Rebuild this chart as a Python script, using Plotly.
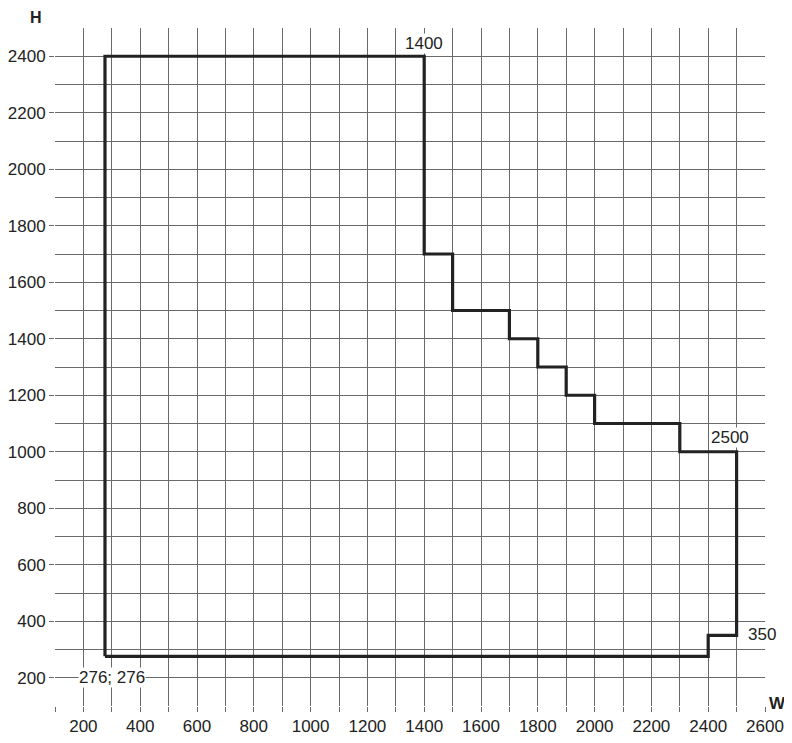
import plotly.graph_objects as go

# Outline of the W x H range (mm)
W = [276, 276, 1400, 1400, 1500, 1500, 1700, 1700, 1800, 1800, 1900, 1900,
     2000, 2000, 2300, 2300, 2500, 2500, 2400, 2400, 276]
H = [276, 2400, 2400, 1700, 1700, 1500, 1500, 1400, 1400, 1300, 1300, 1200,
     1200, 1100, 1100, 1000, 1000, 350, 350, 276, 276]

x_ticks = list(range(200, 2601, 200))
y_ticks = list(range(200, 2401, 200))

labels = [
    {"text": "1400", "x": 1400, "y": 2445},
    {"text": "2500", "x": 2475, "y": 1052},
    {"text": "350", "x": 2590, "y": 352},
    {"text": "276; 276", "x": 300, "y": 200},
]

FONT = "Liberation Sans, Arial, sans-serif"
GRID = "#6a6a6a"
TXT = "#222222"

fig = go.Figure()
fig.add_trace(go.Scatter(x=W, y=H, mode="lines",
                         line=dict(color="#222222", width=3.2),
                         hoverinfo="skip", showlegend=False))

for lab in labels:
    fig.add_annotation(x=lab["x"], y=lab["y"], text=lab["text"], showarrow=False,
                       bgcolor="white", borderpad=0,
                       font=dict(family=FONT, size=17, color=TXT))

fig.add_annotation(xref="paper", yref="paper", x=-0.027, y=1.0, yshift=20,
                   text="<b>H</b>", showarrow=False, xanchor="center", yanchor="top",
                   borderpad=0,
                   font=dict(family=FONT, size=16, color=TXT))
fig.add_annotation(xref="paper", yref="paper", x=1.0, xshift=12, y=0.0, yshift=3,
                   text="<b>W</b>", showarrow=False, xanchor="center", yanchor="middle",
                   font=dict(family=FONT, size=17, color=TXT))

fig.update_xaxes(range=[100, 2600], tickvals=x_ticks, ticktext=[str(v) for v in x_ticks],
                 showgrid=True, gridcolor=GRID, gridwidth=1,
                 ticks="outside", ticklen=5, tickcolor=GRID,
                 minor=dict(dtick=100, tick0=100, showgrid=True, gridcolor=GRID, gridwidth=1,
                            ticks="outside", ticklen=5, tickcolor=GRID),
                 showline=False, zeroline=False,
                 tickfont=dict(family=FONT, size=17, color=TXT))
fig.update_yaxes(range=[100, 2500], tickvals=y_ticks, ticktext=[str(v) for v in y_ticks],
                 showgrid=True, gridcolor=GRID, gridwidth=1,
                 ticks="outside", ticklen=5, tickcolor=GRID,
                 minor=dict(dtick=100, tick0=100, showgrid=True, gridcolor=GRID, gridwidth=1),
                 showline=False, zeroline=False,
                 tickfont=dict(family=FONT, size=17, color=TXT))

fig.update_layout(width=784, height=735,
                  margin=dict(l=47, r=27, t=20, b=37, autoexpand=False),
                  plot_bgcolor="white", paper_bgcolor="white")

fig.write_html("out.html")
